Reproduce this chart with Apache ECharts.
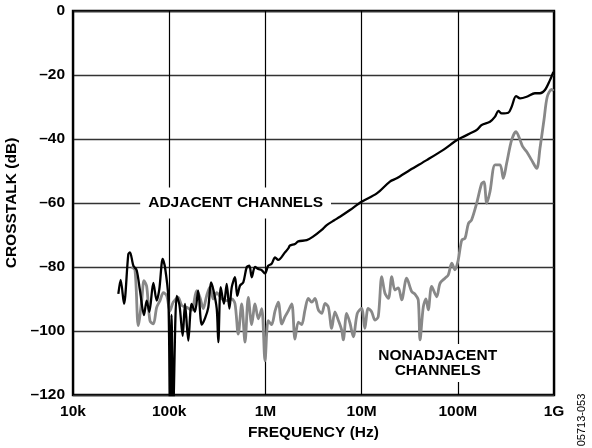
<!DOCTYPE html>
<html>
<head>
<meta charset="utf-8">
<script src="https://cdn.jsdelivr.net/npm/echarts@6/dist/echarts.min.js"></script>
<style>
html,body{margin:0;padding:0;background:#fff;}
#c{width:592px;height:448px;}
</style>
</head>
<body>
<div id="c"></div>
<script>
// X tick labels (decades, Hz)
const xTickValues = [1e4, 1e5, 1e6, 1e7, 1e8, 1e9];
const xTickLabels = ['10k', '100k', '1M', '10M', '100M', '1G'];

// Adjacent channels: frequency (Hz), crosstalk (dB)
const adjFreq = [29.6e3, 31.3e3, 33.9e3, 37.6e3, 39.1e3, 42.4e3, 45.9e3, 49.7e3, 54.7e3, 58.3e3,
  62.1e3, 68.4e3, 74.1e3, 78.9e3, 85.6e3, 90.4e3, 97.9e3, 102e3, 105.7e3, 110e3,
  119.7e3, 128e3, 138e3, 146e3, 158e3, 171e3, 185e3, 200e3, 218e3, 236e3,
  255e3, 272e3, 287e3, 312e3, 324e3, 343e3, 371e3, 396e3, 422e3, 447e3,
  483e3, 510e3, 545e3, 589e3, 640e3, 681e3, 721e3, 780e3, 844e3, 916e3,
  991e3, 1.07e6, 1.16e6, 1.26e6, 1.36e6, 1.6e6, 1.73e6, 1.8e6, 2.03e6, 2.2e6,
  2.69e6, 3.1e6, 3.85e6, 4.34e6, 5.2e6, 5.96e6, 7.57e6, 10.0e6, 14.4e6, 19.7e6,
  23.2e6, 31.8e6, 47.5e6, 70.7e6, 101e6, 157e6, 177e6, 216e6, 244e6, 264e6,
  286e6, 335e6, 363e6, 403e6, 444e6, 520e6, 634e6, 715e6, 805e6, 908e6, 985e6];
const adjDb = [-88.4, -84, -91.5, -76, -75.4, -79.6, -81, -87.4, -95, -90.5,
  -94, -85, -90.5, -87, -77.5, -80, -89.5, -125, -95, -125,
  -89, -92, -101.5, -91.5, -103, -91.5, -94, -87.4, -98, -96,
  -92.6, -84.8, -87, -93, -103.5, -86.3, -91.5, -85.3, -93, -86.3,
  -83.2, -89, -85.8, -84.8, -80, -79.6, -83.2, -80, -80.6, -81,
  -82, -79.6, -79, -77, -77.8, -75.4, -74.2, -73.3, -72.8, -72,
  -71.6, -70.6, -68.4, -66.9, -65.4, -64.3, -62.2, -59.6, -57, -53.3,
  -52.3, -49.7, -46.6, -43.4, -40.1, -37.2, -35.6, -34.6, -33, -31.2,
  -32, -31.8, -29.9, -26.6, -27.3, -26.8, -25.7, -25.7, -24.7, -21.6, -19];

// Nonadjacent channels: frequency (Hz), crosstalk (dB)
const nonFreq = [40.7e3, 44.1e3, 47.7e3, 51.8e3, 54.7e3, 58.3e3, 63.1e3, 68.4e3, 74.1e3, 80.2e3,
  86.9e3, 94.2e3, 102e3, 110e3, 124e3, 135e3, 152e3, 171e3, 193e3, 209e3,
  226e3, 245e3, 265e3, 287e3, 312e3, 352e3, 396e3, 447e3, 483e3, 522e3,
  567e3, 614e3, 664e3, 721e3, 780e3, 844e3, 916e3, 991e3, 1.07e6, 1.16e6,
  1.26e6, 1.36e6, 1.48e6, 1.6e6, 1.73e6, 1.88e6, 2.03e6, 2.2e6, 2.38e6, 2.58e6,
  2.79e6, 3.03e6, 3.28e6, 3.55e6, 3.85e6, 4.17e6, 4.51e6, 4.89e6, 5.28e6, 5.72e6,
  6.21e6, 6.45e6, 7.0e6, 7.57e6, 8.2e6, 9.02e6, 10.0e6, 10.8e6, 11.7e6, 12.7e6,
  13.8e6, 14.9e6, 16.2e6, 17.5e6, 19.0e6, 20.6e6, 22.2e6, 24.1e6, 26.1e6, 29.4e6,
  33.2e6, 35.9e6, 38.8e6, 40.5e6, 43.8e6, 46.7e6, 49.3e6, 53.5e6, 60.4e6, 65.3e6,
  73.6e6, 79.6e6, 86.5e6, 93.5e6, 101e6, 110e6, 119e6, 129e6, 139e6, 157e6,
  177e6, 187e6, 200e6, 216e6, 244e6, 275e6, 297e6, 322e6, 363e6, 403e6,
  444e6, 473e6, 520e6, 586e6, 661e6, 715e6, 787e6, 851e6, 946e6, 985e6];
const nonDb = [-80, -81, -98.3, -90.5, -84.3, -86, -96.8, -97.8, -92.6, -90.5,
  -88, -89, -93.7, -91, -89.5, -92, -92.6, -93.5, -87.4, -89.5,
  -93, -89, -86.3, -90, -88, -90, -90.5, -90, -91.5, -101,
  -91.5, -103.5, -89.5, -98, -91.5, -96.2, -93, -109.3, -96.8, -98,
  -93.7, -91, -97.8, -95.5, -93.7, -91.5, -102.5, -97.2, -98, -93.4,
  -89.8, -91, -89.8, -93.4, -94.5, -91.4, -92.5, -99.2, -94, -96.6,
  -99.7, -102.8, -94.5, -97.5, -101.8, -94.5, -92.9, -99.2, -92.9, -94,
  -96.6, -95.5, -83, -88.2, -89.8, -83, -87.2, -86.5, -90.3, -83.5,
  -87.7, -88.5, -90.3, -102.8, -92.4, -90, -93.4, -86.1, -89.3, -85.1,
  -83.5, -82.5, -78.8, -80.9, -77.8, -71.6, -71, -66.4, -65.3, -60.1,
  -53.9, -53.4, -60.1, -56.5, -48.1, -48.1, -52.3, -47.6, -40.3, -37.7,
  -40.3, -42.4, -44, -46.6, -49.2, -42.9, -34, -26.8, -24.5, -25];

// Callout labels: [frequency, dB, text]
const adjLabel = [490e3, -60, 'ADJACENT CHANNELS'];
const nonLabel = [61.8e6, -110, 'NONADJACENT\nCHANNELS'];

const FONT = '"Liberation Sans", Arial, Helvetica, sans-serif';
const chart = echarts.init(document.getElementById('c'), null, {renderer: 'canvas'});

function zip(a, b) { return a.map((v, i) => [v, b[i]]); }
const dash = v => (v < 0 ? '\u2013' + Math.abs(v) : String(v));

chart.setOption({
  animation: false,
  backgroundColor: '#fff',
  grid: {left: 73, right: 38, top: 11, bottom: 53, containLabel: false, outerBoundsMode: 'none',
    show: true, borderColor: '#000', borderWidth: 2.4, backgroundColor: 'transparent'},
  xAxis: {
    type: 'log', logBase: 10, min: 1e4, max: 1e9,
    name: 'FREQUENCY (Hz)', nameLocation: 'middle', nameGap: 30,
    nameTextStyle: {fontFamily: FONT, fontWeight: 'bold', fontSize: 15.5, color: '#000'},
    axisLine: {show: false},
    axisTick: {show: false},
    splitLine: {show: true, lineStyle: {color: '#000', width: 1.2}},
    axisLabel: {
      fontFamily: FONT, fontWeight: 'bold', fontSize: 15.5, color: '#000', margin: 9,
      formatter: v => { const i = xTickValues.findIndex(t => Math.abs(Math.log10(t) - Math.log10(v)) < 1e-6); return i >= 0 ? xTickLabels[i] : ''; }
    }
  },
  yAxis: {
    type: 'value', min: -120, max: 0, interval: 20,
    name: 'CROSSTALK (dB)', nameLocation: 'middle', nameGap: 50, nameRotate: 90,
    nameTextStyle: {fontFamily: FONT, fontWeight: 'bold', fontSize: 15.5, color: '#000'},
    axisLine: {show: false},
    axisTick: {show: false},
    splitLine: {show: true, lineStyle: {color: '#333', width: 1.4}},
    axisLabel: {fontFamily: FONT, fontWeight: 'bold', fontSize: 15.5, color: '#000', margin: 8, formatter: dash}
  },
  series: [
    {
      name: 'NONADJACENT', type: 'line', data: zip(nonFreq, nonDb), showSymbol: false, symbol: 'none',
      smooth: 0.3, lineStyle: {color: '#888', width: 2.8}, z: 3
    },
    {
      name: 'ADJACENT', type: 'line', data: zip(adjFreq, adjDb), showSymbol: false, symbol: 'none',
      smooth: 0.3, lineStyle: {color: '#000', width: 2.3}, z: 4
    }
  ]
});

const pA = chart.convertToPixel({gridIndex: 0}, [adjLabel[0], adjLabel[1]]);
const pN = chart.convertToPixel({gridIndex: 0}, [nonLabel[0], nonLabel[1]]);
chart.setOption({
  graphic: [
    {
      type: 'text', x: pA[0], y: pA[1], z: 10,
      style: {text: adjLabel[2], fill: '#000', font: 'bold 15.5px ' + FONT, align: 'center', verticalAlign: 'middle',
        backgroundColor: '#fff', padding: [8, 8, 7, 8]}
    },
    {
      type: 'text', x: pN[0], y: pN[1], z: 10,
      style: {text: nonLabel[2], fill: '#000', font: 'bold 15.5px ' + FONT, align: 'center', verticalAlign: 'middle',
        lineHeight: 15, backgroundColor: '#fff', padding: [4, 7, 4, 7]}
    },
    {
      type: 'text', x: 582, y: 420, rotation: Math.PI / 2, z: 10,
      style: {text: '05713-053', fill: '#000', font: '11px ' + FONT, align: 'center', verticalAlign: 'middle'}
    }
  ]
});
</script>
</body>
</html>
